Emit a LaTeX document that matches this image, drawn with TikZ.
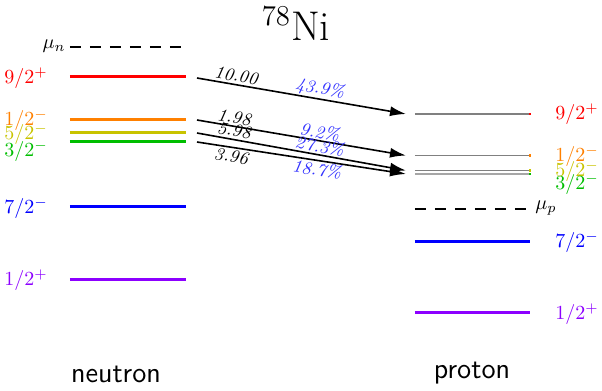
\documentclass[tikz,border=0pt]{standalone}
\usetikzlibrary{arrows.meta}
\definecolor{cred}{RGB}{255,0,0}
\definecolor{corange}{RGB}{255,128,0}
\definecolor{colive}{RGB}{200,195,0}
\definecolor{cgreen}{RGB}{0,190,0}
\definecolor{cblue}{RGB}{0,0,255}
\definecolor{cviolet}{RGB}{140,0,255}
\definecolor{cpct}{RGB}{50,50,255}
\tikzset{
  lev/.style={line width=1.5pt},
  thinlev/.style={line width=0.6pt, gray},
  fermi/.style={line width=0.8pt, dash pattern=on 5.5pt off 4.5pt},
  lab/.style={inner sep=0pt},
  trans/.style={line width=0.8pt, -{Latex[length=8pt,width=5pt]}},
  num/.style={font=\small\itshape, inner sep=1pt, sloped},
  pct/.style={font=\small\itshape, text=cpct, inner sep=0pt, sloped},
  dot/.style={inner sep=0pt, minimum size=1.1pt, fill},
}
\begin{document}
\begin{tikzpicture}[x=0.5pt, y=-0.5pt]
\useasboundingbox (0,0) rectangle (602,391);
% title
\node[lab, font=\huge] (title) at (296,24) {$^{78}$Ni};
% neutron levels
\draw[fermi] (70,47) coordinate (nmua) -- (186,47) coordinate (nmub);
\node[lab, anchor=east] (lmun) at (66,46) {$\mu_n$};
\draw[lev, cred] (70,77) coordinate (n92a) -- (186,77) coordinate (n92b);
\draw[lev, corange] (70,120) coordinate (n12a) -- (186,120) coordinate (n12b);
\draw[lev, colive] (70,133) coordinate (n52a) -- (186,133) coordinate (n52b);
\draw[lev, cgreen] (70,142) coordinate (n32a) -- (186,142) coordinate (n32b);
\draw[lev, cblue] (70,207) coordinate (n72a) -- (186,207) coordinate (n72b);
\draw[lev, cviolet] (70,280) coordinate (n1pa) -- (186,280) coordinate (n1pb);
\node[lab, anchor=west, text=cred] (ln92) at (4,78) {$9/2^{+}$};
\node[lab, anchor=west, text=corange] (ln12) at (4,120) {$1/2^{-}$};
\node[lab, anchor=west, text=colive] (ln52) at (4,134) {$5/2^{-}$};
\node[lab, anchor=west, text=cgreen] (ln32) at (4,151) {$3/2^{-}$};
\node[lab, anchor=west, text=cblue] (ln72) at (4,208) {$7/2^{-}$};
\node[lab, anchor=west, text=cviolet] (ln1p) at (4,280) {$1/2^{+}$};
\node[lab, font=\sffamily\Large] (neutron) at (116,374) {neutron};
% proton levels
\draw[thinlev] (415,114) coordinate (p92a) -- (530,114) coordinate (p92b);
\draw[thinlev] (415,155.5) coordinate (p12a) -- (530,155.5) coordinate (p12b);
\draw[thinlev] (415,170.5) coordinate (p52a) -- (530,170.5) coordinate (p52b);
\draw[thinlev, gray!70] (415,174) coordinate (p32a) -- (530,174) coordinate (p32b);
\node[dot, cred] (d92) at (p92b) {};
\node[dot, corange] (d12) at (p12b) {};
\node[dot, colive] (d52) at (p52b) {};
\node[dot, cgreen] (d32) at (p32b) {};
\draw[fermi] (415,209) coordinate (pmua) -- (530,209) coordinate (pmub);
\node[lab, anchor=west] (lmup) at (535,208) {$\mu_p$};
\draw[lev, cblue] (415,242) coordinate (p72a) -- (530,242) coordinate (p72b);
\draw[lev, cviolet] (415,313) coordinate (p1pa) -- (530,313) coordinate (p1pb);
\node[lab, anchor=west, text=cred] (lp92) at (555,114) {$9/2^{+}$};
\node[lab, anchor=west, text=corange] (lp12) at (555,156) {$1/2^{-}$};
\node[lab, anchor=west, text=colive] (lp52) at (555,171) {$5/2^{-}$};
\node[lab, anchor=west, text=cgreen] (lp32) at (555,184) {$3/2^{-}$};
\node[lab, anchor=west, text=cblue] (lp72) at (555,242) {$7/2^{-}$};
\node[lab, anchor=west, text=cviolet] (lp1p) at (555,314) {$1/2^{+}$};
\node[lab, font=\sffamily\Large] (proton) at (472,373) {proton};
% transitions
\draw[trans] ([xshift=5.5pt,yshift=-0.5pt]n92b) -- ([xshift=-4.5pt]p92a)
  node[num, pos=0.18, above] {10.00} node[pct, pos=0.58, above=0.4pt] {43.9\%};
\draw[trans] ([xshift=5.5pt]n12b) -- ([xshift=-4.5pt]p12a)
  node[num, pos=0.17, above] {1.98} node[pct, pos=0.58, above=0.4pt] {9.2\%};
\draw[trans] ([xshift=5.5pt]n52b) -- ([xshift=-4.5pt]p52a)
  node[num, pos=0.17, above] {5.98} node[pct, pos=0.58, above=0.4pt] {27.3\%};
\draw[trans] ([xshift=5.5pt]n32b) -- ([xshift=-4.5pt]p32a)
  node[num, pos=0.17, below] {3.96} node[pct, pos=0.58, below=0.4pt] {18.7\%};
\end{tikzpicture}
\end{document}
